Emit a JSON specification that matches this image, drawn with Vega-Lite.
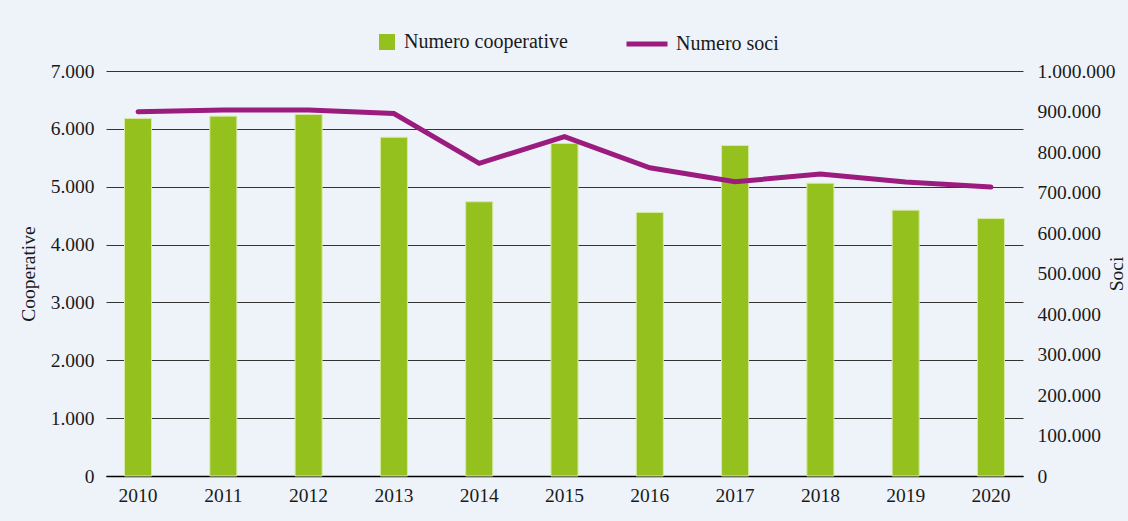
{
  "$schema": "https://vega.github.io/schema/vega-lite/v6.json",
  "autosize": "none",
  "width": 917,
  "height": 405,
  "padding": {"left": 106, "top": 71, "right": 105, "bottom": 45},
  "background": "#eef3fa",
  "config": {
    "view": {"stroke": null},
    "font": "Liberation Serif",
    "locale": {"number": {"decimal": ",", "thousands": ".", "grouping": [3], "currency": ["", " €"]}},
    "axis": {"labelFont": "Liberation Serif", "titleFont": "Liberation Serif", "labelColor": "#1a1a1a", "titleColor": "#1a1a1a", "titleFontWeight": "normal"},
    "legend": {"labelFont": "Liberation Serif", "labelColor": "#1a1a1a", "labelLimit": 400}
  },
  "data": {
    "values": [
      {"anno": "2010", "cooperative": 6180, "soci": 899500},
      {"anno": "2011", "cooperative": 6220, "soci": 903500},
      {"anno": "2012", "cooperative": 6250, "soci": 903500},
      {"anno": "2013", "cooperative": 5855, "soci": 895000},
      {"anno": "2014", "cooperative": 4740, "soci": 772000},
      {"anno": "2015", "cooperative": 5748, "soci": 838000},
      {"anno": "2016", "cooperative": 4555, "soci": 761000},
      {"anno": "2017", "cooperative": 5712, "soci": 726500},
      {"anno": "2018", "cooperative": 5060, "soci": 745500},
      {"anno": "2019", "cooperative": 4595, "soci": 726000},
      {"anno": "2020", "cooperative": 4450, "soci": 713500}
    ]
  },
  "encoding": {
    "x": {
      "field": "anno", "type": "ordinal",
      "scale": {"paddingInner": 0.683, "paddingOuter": 0.217},
      "axis": {"title": null, "labelAngle": 0, "labelFontSize": 19.5, "labelPadding": 10, "ticks": false, "domainColor": "#000000", "domainWidth": 1.5, "grid": false}
    }
  },
  "layer": [
    {
      "mark": {"type": "bar", "stroke": "#d6e9a6", "strokeWidth": 1},
      "encoding": {
        "y": {
          "field": "cooperative", "type": "quantitative",
          "scale": {"domain": [0, 7000]},
          "axis": {
            "orient": "left", "values": [0, 1000, 2000, 3000, 4000, 5000, 6000, 7000], "format": ",d",
            "title": "Cooperative", "titleFontSize": 19.5, "titleX": -72, "titleY": 202.5, "titleAngle": -90, "titleBaseline": "alphabetic", "titleAlign": "center",
            "labelFontSize": 19.5, "labelPadding": 12, "ticks": false, "domain": false,
            "grid": true, "gridColor": "#333333", "gridWidth": 1.2
          }
        },
        "fill": {
          "datum": "Numero cooperative",
          "scale": {"range": ["#95c11f"]},
          "legend": {"title": null, "orient": "none", "legendX": 271, "legendY": -39, "symbolType": "square", "symbolSize": 256, "symbolStrokeWidth": 0, "labelFontSize": 20, "labelOffset": 7, "labelLimit": 400, "padding": 0}
        }
      }
    },
    {
      "mark": {"type": "line", "strokeWidth": 5, "strokeCap": "round"},
      "encoding": {
        "y": {
          "field": "soci", "type": "quantitative",
          "scale": {"domain": [0, 1000000]},
          "axis": {
            "orient": "right", "values": [0, 100000, 200000, 300000, 400000, 500000, 600000, 700000, 800000, 900000, 1000000], "format": ",d",
            "title": "Soci", "titleFontSize": 19.5, "titleX": 99, "titleY": 202.5, "titleAngle": -90, "titleBaseline": "alphabetic", "titleAlign": "center",
            "labelFontSize": 19.5, "labelPadding": 14, "ticks": false, "domain": false, "grid": false
          }
        },
        "stroke": {
          "datum": "Numero soci",
          "scale": {"range": ["#9c1b7f"]},
          "legend": {"title": null, "orient": "none", "legendX": 518, "legendY": -50, "symbolType": "stroke", "symbolSize": 1681, "symbolStrokeWidth": 5, "labelFontSize": 20, "labelOffset": 6, "labelLimit": 400, "padding": 0}
        }
      }
    }
  ],
  "resolve": {"scale": {"y": "independent"}}
}
